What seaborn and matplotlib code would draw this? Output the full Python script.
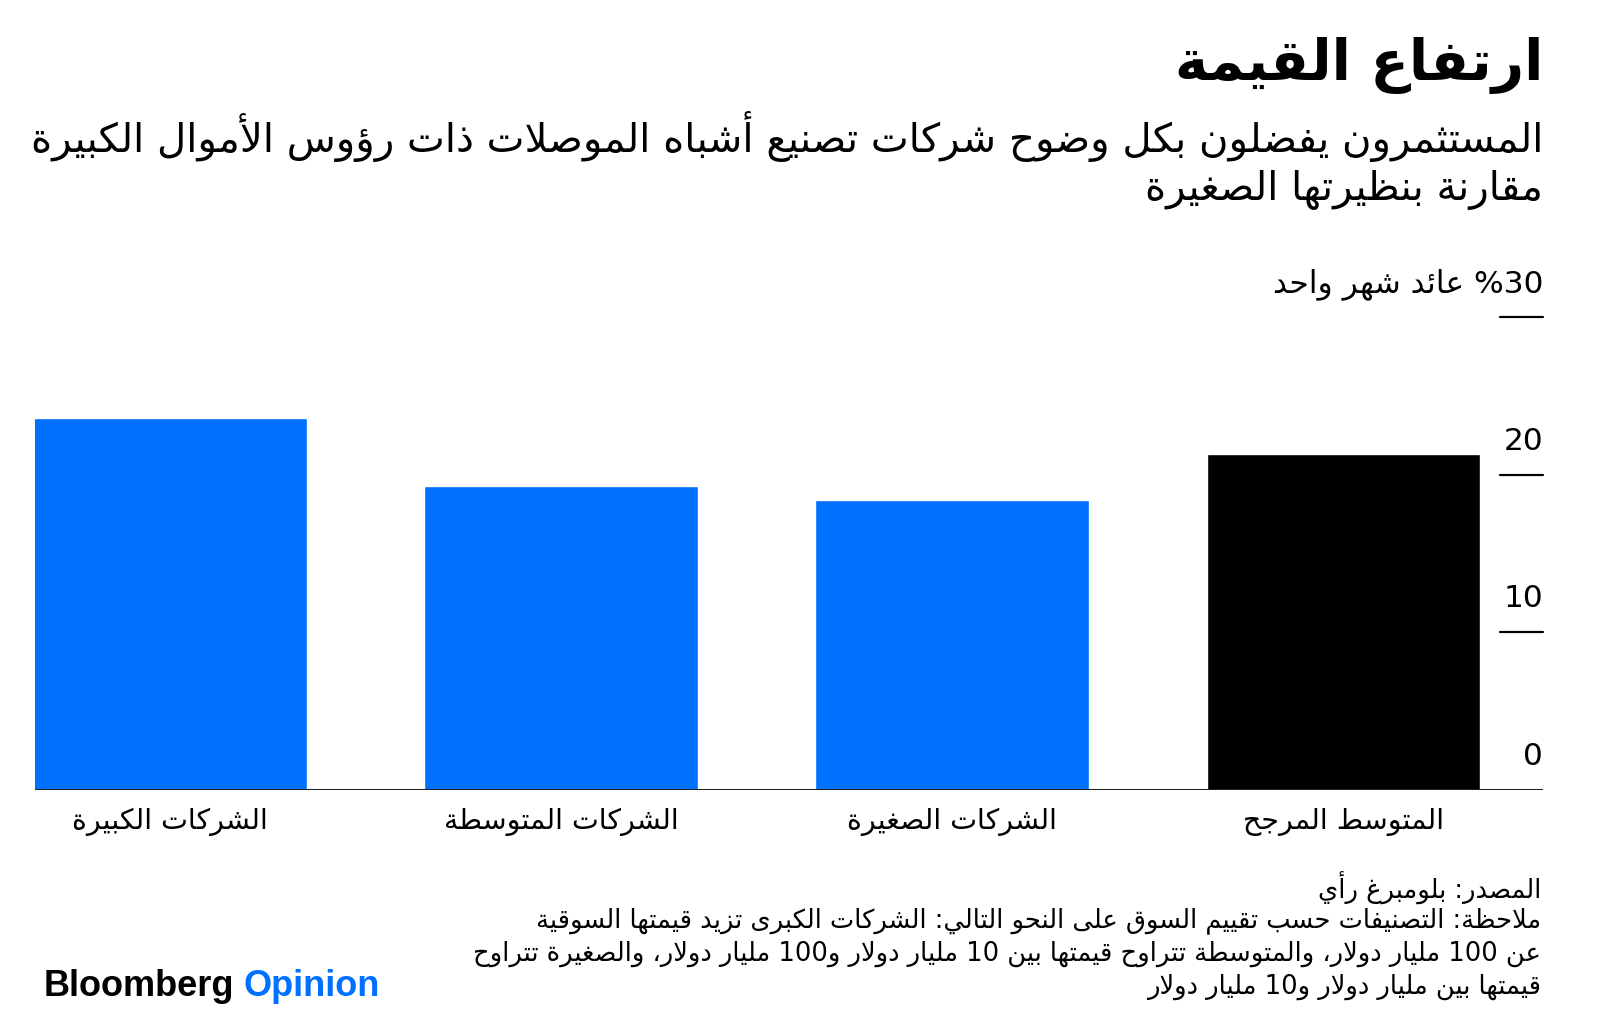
import re
import pandas as pd
import matplotlib.pyplot as plt
import seaborn as sns
from matplotlib.transforms import blended_transform_factory

# Data (logical Arabic order)
categories = ['الشركات الكبيرة', 'الشركات المتوسطة', 'الشركات الصغيرة', 'المتوسط المرجح']
values = [23.6, 19.3, 18.4, 21.3]
bar_colors = ['#0070ff', '#0070ff', '#0070ff', '#000000']
y_ticks = [0, 10, 20, 30]
y_tick_labels = ['0', '10', '20', '%30 عائد شهر واحد']

title = 'ارتفاع القيمة'
subtitle = ['المستثمرون يفضلون بكل وضوح شركات تصنيع أشباه الموصلات ذات رؤوس الأموال الكبيرة',
            'مقارنة بنظيرتها الصغيرة']
notes = ['المصدر: بلومبرغ رأي',
         'ملاحظة: التصنيفات حسب تقييم السوق على النحو التالي: الشركات الكبرى تزيد قيمتها السوقية',
         'عن 100 مليار دولار، والمتوسطة تتراوح قيمتها بين 10 مليار دولار و100 مليار دولار، والصغيرة تتراوح',
         'قيمتها بين مليار دولار و10 مليار دولار']

# matplotlib 3.10 does no Arabic shaping or bidi, so map letters to their
# presentation forms and flip into visual order by hand
_two = set('آأؤإاةدذرزوى')
_forms = {}
_code = 0xFE80
for ch in 'ءآأؤإئابةتثجحخدذرزسشصضطظعغفقكلمنهوىي':
    n = 1 if ch == 'ء' else (2 if ch in _two else 4)
    _forms[ch] = [chr(_code + i) for i in range(n)]
    _code += n
_lam_alef = {'آ': 0xFEF5, 'أ': 0xFEF7, 'إ': 0xFEF9, 'ا': 0xFEFB}


def joins_next(ch):
    return ch in _forms and len(_forms[ch]) == 4


def joins_prev(ch):
    return ch in _forms and len(_forms[ch]) >= 2


def shape(text):
    out = []
    i = 0
    while i < len(text):
        ch = text[i]
        prev = text[i - 1] if i > 0 else ''
        nxt = text[i + 1] if i + 1 < len(text) else ''
        if ch not in _forms:
            out.append(ch)
            i += 1
            continue
        p = joins_next(prev) and joins_prev(ch)
        if ch == 'ل' and nxt in _lam_alef:
            out.append(chr(_lam_alef[nxt] + (1 if p else 0)))
            i += 2
            continue
        n = joins_next(ch) and joins_prev(nxt)
        f = _forms[ch]
        idx = 3 if (p and n) else 1 if p else 2 if n else 0
        if idx >= len(f):
            idx = 1 if p else 0
        out.append(f[idx])
        i += 1
    return ''.join(out)


def ar(text):
    s = shape(text)
    parts = re.findall(r'[0-9A-Za-z%.]+|[^0-9A-Za-z%.]+', s)
    return ''.join(p if re.match(r'[0-9A-Za-z%.]', p) else p[::-1] for p in reversed(parts))


sns.set_style('white')
plt.rcParams['font.family'] = ['DejaVu Sans']
plt.rcParams['text.color'] = 'black'

df = pd.DataFrame({'category': [ar(c) for c in categories], 'value': values})

fig = plt.figure(figsize=(16, 10.18), dpi=100)
ax = fig.add_axes([0.0219, 0.224, 0.9425, 0.4646])
sns.barplot(data=df, x='category', y='value', hue='category', palette=bar_colors,
            width=0.70, saturation=1, legend=False, ax=ax)

ax.set_xlim(-0.345, 3.51)
ax.set_ylim(0, 30)
sns.despine(ax=ax, left=True, bottom=True)
ax.axhline(0, color='#222222', lw=2.2)
ax.set_xlabel('')
ax.set_ylabel('')
ax.set_yticks([])
ax.tick_params(axis='x', length=0, labelsize=20.5, pad=13, colors='black')

# Bloomberg-style y ticks: short rule under each label at the right edge
trans = blended_transform_factory(ax.transAxes, ax.transData)
for v, lab in zip(y_ticks, y_tick_labels):
    if v > 0:
        ax.plot([0.9715, 1.0], [v, v], color='black', lw=1.6, transform=trans, clip_on=False)
    ax.annotate(ar(lab), xy=(1.0, v), xycoords=trans, xytext=(0, 24),
                textcoords='offset points', ha='right', va='center', fontsize=22.5)

# Title block
fig.text(0.9644, 1 - 66 / 1018, ar(title), ha='right', va='center', fontsize=40.5, fontweight='bold')
fig.text(0.9644, 1 - 137 / 1018, ar(subtitle[0]), ha='right', va='center', fontsize=29)
fig.text(0.9644, 1 - 190 / 1018, ar(subtitle[1]), ha='right', va='center', fontsize=29)

# Source and notes
for y, line in zip([888, 921, 954, 987], notes):
    fig.text(0.9631, 1 - y / 1018, ar(line), ha='right', va='center', fontsize=18.5)

# Logo
fig.text(44 / 1600, 1 - 986 / 1018, 'Bloomberg', ha='left', va='center', fontsize=26,
         fontweight='bold', family='Liberation Sans')
fig.text(243 / 1600, 1 - 986 / 1018, 'Opinion', ha='left', va='center', fontsize=26,
         fontweight='bold', family='Liberation Sans', color='#0070ff')

fig.savefig('out.png', dpi=100)
